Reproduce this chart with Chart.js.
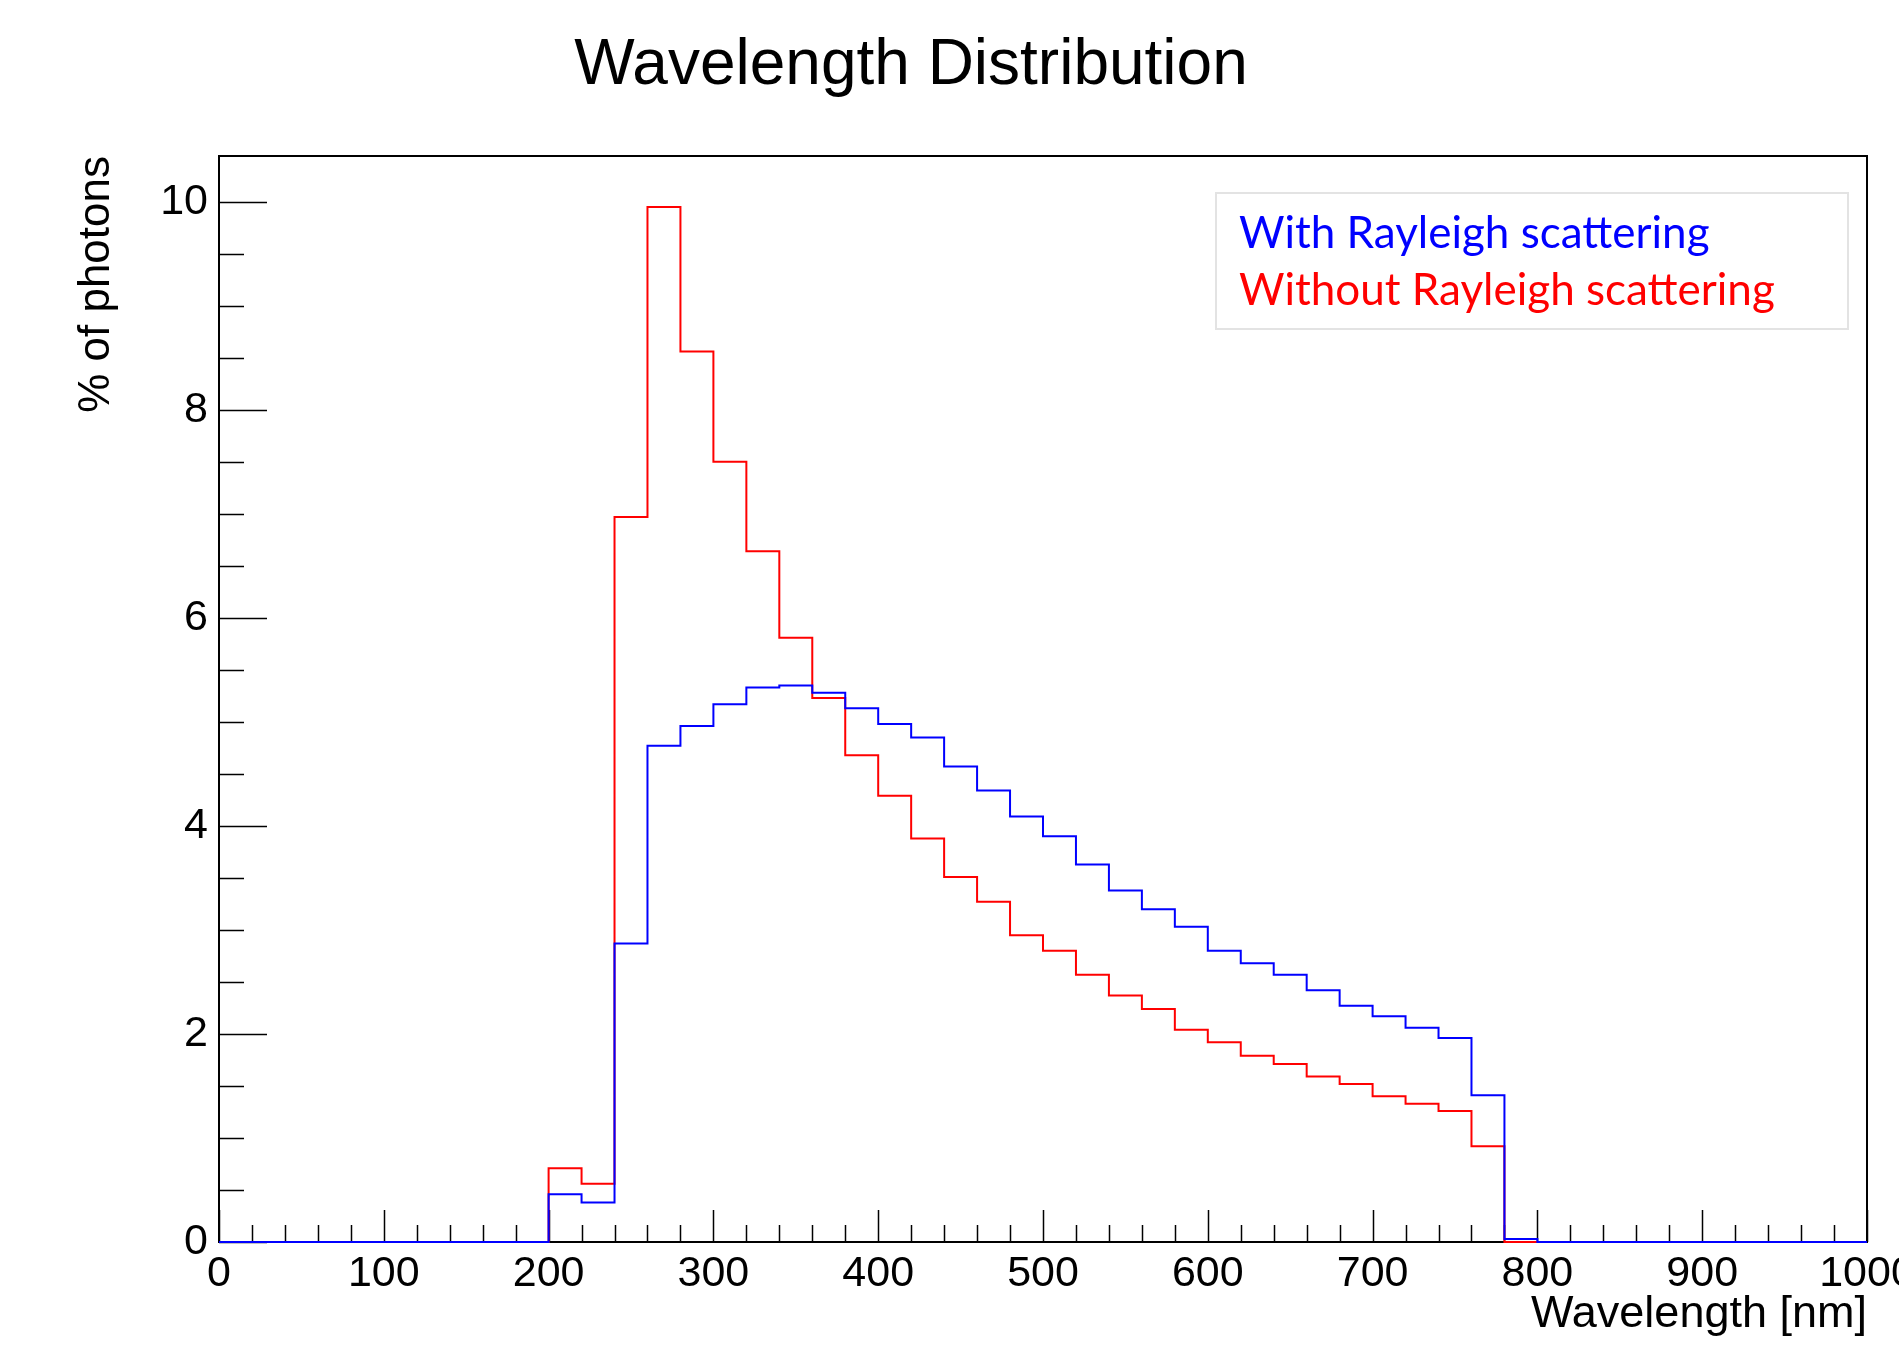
<!DOCTYPE html>
<html lang="en">
<head>
  <meta charset="UTF-8">
  <title>Wavelength Distribution</title>
  <script src="https://cdn.jsdelivr.net/npm/chart.js"></script>
  <style>
    html, body { margin: 0; padding: 0; background: #ffffff; }
    canvas { display: block; }
  </style>
</head>
<body>
  <canvas id="wlChart" width="1899" height="1345"></canvas>

  <script>
    // histogram bin edges (20 nm bins), last entry closes the final bin
    const binEdges = [
      0, 20, 40, 60, 80, 100, 120, 140, 160, 180,
      200, 220, 240, 260, 280, 300, 320, 340, 360, 380,
      400, 420, 440, 460, 480, 500, 520, 540, 560, 580,
      600, 620, 640, 660, 680, 700, 720, 740, 760, 780,
      800, 820, 840, 860, 880, 900, 920, 940, 960, 980,
      1000
    ];

    // % of photons per bin
    const withRayleigh = [
      0, 0, 0, 0, 0, 0, 0, 0, 0, 0,
      0.46, 0.38, 2.87, 4.77, 4.96, 5.17, 5.33, 5.35, 5.28, 5.13,
      4.98, 4.85, 4.57, 4.34, 4.09, 3.90, 3.63, 3.38, 3.20, 3.03,
      2.80, 2.68, 2.57, 2.42, 2.27, 2.17, 2.06, 1.96, 1.41, 0.03,
      0, 0, 0, 0, 0, 0, 0, 0, 0, 0
    ];
    const withoutRayleigh = [
      0, 0, 0, 0, 0, 0, 0, 0, 0, 0,
      0.71, 0.56, 6.97, 9.95, 8.56, 7.50, 6.64, 5.81, 5.23, 4.68,
      4.29, 3.88, 3.51, 3.27, 2.95, 2.80, 2.57, 2.37, 2.24, 2.04,
      1.92, 1.79, 1.71, 1.59, 1.52, 1.40, 1.33, 1.26, 0.92, 0,
      0, 0, 0, 0, 0, 0, 0, 0, 0, 0
    ];

    const seriesLabels = ['With Rayleigh scattering', 'Without Rayleigh scattering'];
    const seriesColors = ['#0000ff', '#ff0000'];

    const xMin = 0, xMax = 1000, xMajor = 100, xMinor = 20;
    const yMin = 0, yMax = 10.44, yMajor = 2, yMinor = 0.5;

    const FONT = "'Liberation Sans', Arial, Helvetica, sans-serif";

    // step points: value of each bin held from its left edge to the next edge
    function toSteps(values) {
      return binEdges.map((x, i) => ({ x: x, y: i < values.length ? values[i] : values[values.length - 1] }));
    }

    // ROOT-like frame with ticks drawn inside the plot
    const frameTicks = {
      id: 'frameTicks',
      beforeDatasetsDraw(chart) {
        const { ctx, chartArea: a, scales: { x, y } } = chart;
        ctx.save();
        ctx.strokeStyle = '#000';
        ctx.lineWidth = 1.5;
        ctx.beginPath();
        for (let i = 0; xMin + i * xMinor <= xMax; i++) {
          const v = xMin + i * xMinor;
          const px = Math.round(x.getPixelForValue(v)) + 0.5;
          const len = (i % (xMajor / xMinor) === 0) ? 32 : 17;
          ctx.moveTo(px, a.bottom);
          ctx.lineTo(px, a.bottom - len);
        }
        for (let i = 0; yMin + i * yMinor <= yMax; i++) {
          const v = yMin + i * yMinor;
          const py = Math.round(y.getPixelForValue(v)) + 0.5;
          const len = (i % (yMajor / yMinor) === 0) ? 48 : 25;
          ctx.moveTo(a.left, py);
          ctx.lineTo(a.left + len, py);
        }
        ctx.stroke();
        ctx.lineWidth = 2;
        ctx.strokeRect(a.left, a.top, a.right - a.left, a.bottom - a.top);
        ctx.restore();
      },
      afterDraw(chart) {
        const ctx = chart.ctx;
        ctx.save();
        // title
        ctx.fillStyle = '#000';
        ctx.font = '64px ' + FONT;
        ctx.textAlign = 'center';
        ctx.textBaseline = 'alphabetic';
        ctx.fillText('Wavelength Distribution', 911, 84);
        // legend box
        ctx.strokeStyle = '#e3e3e3';
        ctx.lineWidth = 2;
        ctx.strokeRect(1216, 193, 632, 136);
        ctx.font = "44px Lato, 'Open Sans', sans-serif";
        ctx.textAlign = 'left';
        chart.data.datasets.forEach((ds, i) => {
          ctx.fillStyle = ds.borderColor;
          ctx.fillText(ds.label, 1239, 248 + i * 57);
        });
        ctx.restore();
      }
    };

    const ctx = document.getElementById('wlChart').getContext('2d');
    new Chart(ctx, {
      type: 'line',
      data: {
        datasets: [
          {
            label: seriesLabels[0],
            data: toSteps(withRayleigh),
            borderColor: seriesColors[0],
            borderWidth: 2,
            stepped: true,
            pointRadius: 0,
            fill: false,
            clip: 4
          },
          {
            label: seriesLabels[1],
            data: toSteps(withoutRayleigh),
            borderColor: seriesColors[1],
            borderWidth: 2,
            stepped: true,
            pointRadius: 0,
            fill: false,
            clip: 4
          }
        ]
      },
      options: {
        responsive: false,
        animation: false,
        layout: { padding: { left: 0, right: 32, top: 156, bottom: 0 } },
        plugins: {
          legend: { display: false },
          title: { display: false },
          tooltip: { enabled: false }
        },
        scales: {
          x: {
            type: 'linear',
            min: xMin,
            max: xMax,
            grid: { display: false, drawTicks: false },
            border: { display: false },
            ticks: {
              stepSize: xMajor,
              autoSkip: false,
              maxRotation: 0,
              padding: 6,
              color: '#000',
              font: { family: FONT, size: 43 },
              callback: (v) => String(v)
            },
            title: {
              display: true,
              text: 'Wavelength [nm]',
              align: 'end',
              color: '#000',
              font: { family: FONT, size: 45 },
              padding: { top: 0, bottom: 3 }
            },
            afterFit(scale) {
              scale.height = 103;
              scale.paddingLeft = 0;
              scale.paddingRight = 0;
            }
          },
          y: {
            min: yMin,
            max: yMax,
            grid: { display: false, drawTicks: false },
            border: { display: false },
            ticks: {
              stepSize: yMajor,
              includeBounds: false,
              padding: 11,
              color: '#000',
              font: { family: FONT, size: 43 },
              callback: (v) => String(v)
            },
            title: {
              display: true,
              text: '% of photons',
              align: 'end',
              color: '#000',
              font: { family: FONT, size: 44 },
              padding: { top: 70, bottom: 0 }
            },
            afterFit(scale) {
              scale.width = 219;
              scale.paddingTop = 0;
              scale.paddingBottom = 0;
            }
          }
        }
      },
      plugins: [frameTicks]
    });
  </script>
</body>
</html>
